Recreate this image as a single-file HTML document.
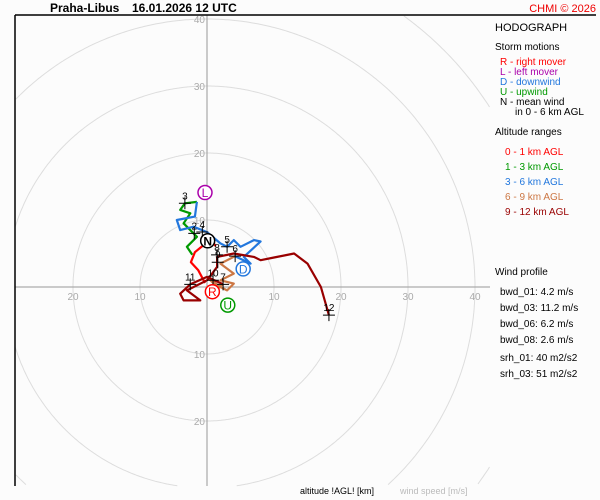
<!DOCTYPE html>
<html><head><meta charset="utf-8"><style>
html,body{margin:0;padding:0;width:600px;height:500px;overflow:hidden;background:#fcfcfc;}
svg{display:block;font-family:"Liberation Sans",sans-serif;}
</style></head><body>
<svg width="600" height="500" viewBox="0 0 600 500">
<rect x="0" y="0" width="600" height="500" fill="#fcfcfc"/>
<g id="grid"></g>
<g id="axes"></g>
<g id="series"></g>
<g id="marks"></g>
<line x1="15" y1="15" x2="596" y2="15" stroke="#000" stroke-width="1.5"/>
<line x1="15" y1="15" x2="15" y2="486" stroke="#000" stroke-width="1.5"/>
<text x="50" y="12" font-size="12" font-weight="bold">Praha-Libus</text>
<text x="132" y="12" font-size="12" font-weight="bold">16.01.2026 12 UTC</text>
<text x="596" y="12" font-size="11" fill="#e00" text-anchor="end">CHMI © 2026</text>
<text x="495" y="31" font-size="11">HODOGRAPH</text>
<text x="495" y="50" font-size="10">Storm motions</text>
<text x="500" y="65" font-size="10" fill="#f00">R - right mover</text>
<text x="500" y="75" font-size="10" fill="#a0a">L - left mover</text>
<text x="500" y="85" font-size="10" fill="#27d">D - downwind</text>
<text x="500" y="95" font-size="10" fill="#090">U - upwind</text>
<text x="500" y="105" font-size="10">N - mean wind</text>
<text x="515" y="115" font-size="10">in 0 - 6 km AGL</text>
<text x="495" y="135" font-size="10">Altitude ranges</text>
<text x="505" y="155" font-size="10" fill="#f00">0 - 1 km AGL</text>
<text x="505" y="170" font-size="10" fill="#090">1 - 3 km AGL</text>
<text x="505" y="185" font-size="10" fill="#27d">3 - 6 km AGL</text>
<text x="505" y="200" font-size="10" fill="#c74">6 - 9 km AGL</text>
<text x="505" y="215" font-size="10" fill="#900">9 - 12 km AGL</text>
<text x="495" y="275" font-size="10">Wind profile</text>
<text x="500" y="295" font-size="10">bwd_01: 4.2 m/s</text>
<text x="500" y="311" font-size="10">bwd_03: 11.2 m/s</text>
<text x="500" y="327" font-size="10">bwd_06: 6.2 m/s</text>
<text x="500" y="343" font-size="10">bwd_08: 2.6 m/s</text>
<text x="500" y="361" font-size="10">srh_01: 40 m2/s2</text>
<text x="500" y="377" font-size="10">srh_03: 51 m2/s2</text>
<text x="300" y="494" font-size="9">altitude !AGL! [km]</text>
<text x="400" y="494" font-size="9" fill="#bbb">wind speed [m/s]</text>
<script>
const ringValues=[10,20,30,40,50,60,70];
const tickLabelsPos=[10,20,30,40];
const tickLabelsNeg=[10,20];
const seg01U=[-0.3,-1.3,-2.4,-1.8,-0.7,0.7,1.3];
const seg01V=[0.6,2.5,3.7,5.2,6.1,6.9,6.1];
const seg13U=[-2.2,-3,-1.5,-3.5,-2.5,-4,-3.3,-1.5];
const seg13V=[4.8,6,7.5,9.5,11,11.5,12.5,12.7];
const seg36U=[-1.5,-1.8,-4.5,-4,-2,0,2,3,4,5,7,8,5.5,6.5,4.2];
const seg36V=[12.7,10.5,10,8.5,9,8.2,6.5,6,7,6,7,6.8,4.5,3.5,4.6];
const seg69U=[4.2,2,4,2,4,3,1,0,2,0,2.4];
const seg69V=[4.6,3.5,2,1,0.5,-0.5,0.5,1.5,0,-1,0.4];
const seg912U=[2.4,0,-2.5,-4,-3.5,-1,-3,0,1.5,1.5,4,7,8,10,13,15,17,18.2];
const seg912V=[0.4,1.5,0.4,-1,-2,-2,-0.5,1,3,4.5,5,4.5,4,4.4,5,3.5,0,-4.2];
const heightLabels=["2","3","4","5","6","8","9","10","11","7","12"];
const heightU=[-1.9,-3.3,-0.7,3,4.2,1.5,1.6,0.9,-2.5,2.4,18.2];
const heightV=[8,12.5,8.2,6,4.6,4.8,3.7,1,0.4,0.4,-4.2];
const motionLabels=["R","L","D","U","N"];
const motionU=[0.8,-0.3,5.4,3.1,0.1];
const motionV=[-0.7,14.1,2.7,-2.7,6.9];
const motionColors=["#f00","#a0a","#27d","#090","#000"];
const CX=207,CY=287,S=6.7;
const X0=15,X1=490,Y0=15,Y1=486;
function sx(u){return CX+u*S;}
function sy(v){return CY-v*S;}
const NS="http://www.w3.org/2000/svg";
function mk(tag,attrs,parent){const e=document.createElementNS(NS,tag);for(const k in attrs)e.setAttribute(k,attrs[k]);parent.appendChild(e);return e;}
const grid=document.getElementById('grid'),axes=document.getElementById('axes'),series=document.getElementById('series'),marks=document.getElementById('marks');
ringValues.forEach(r=>{
  let d='',inside=false;
  for(let k=0;k<=720;k++){const a=k/720*2*Math.PI;const x=CX+r*S*Math.cos(a),y=CY+r*S*Math.sin(a);
    const ok=x>=X0&&x<=X1&&y>=Y0&&y<=Y1;
    if(ok){d+=(inside?'L':'M')+x.toFixed(1)+','+y.toFixed(1);}
    inside=ok;}
  if(!d)return;
  const c=mk('path',{d:d,fill:'none',stroke:'#ddd','stroke-width':1},grid);
  
  });
let l=mk('line',{x1:X0,y1:CY,x2:X1,y2:CY,stroke:'#999'},axes);


l=mk('line',{x1:CX,y1:Y0,x2:CX,y2:Y1,stroke:'#999'},axes);


function lab(x,y,t,a){const e=mk('text',{x:x,y:y,'font-size':10,fill:'#aaa','text-anchor':a},axes);e.textContent=t;

}
tickLabelsPos.forEach(t=>{lab(sx(t),CY+13,t,'middle');lab(CX-2,sy(t)+4,t,'end');});
tickLabelsNeg.forEach(t=>{lab(sx(-t),CY+13,t,'middle');lab(CX-2,sy(-t)+4,t,'end');});
function path(U,V,col,name){let d=U.map((u,i)=>(i?'L':'M')+sx(u).toFixed(1)+','+sy(V[i]).toFixed(1)).join(' ');
const p=mk('path',{d:d,fill:'none',stroke:col,'stroke-width':2.2,'stroke-linejoin':'round'},series);

}
path(seg01U,seg01V,'#f00','series-0-1km');
path(seg13U,seg13V,'#090','series-1-3km');
path(seg36U,seg36V,'#27d','series-3-6km');
path(seg69U,seg69V,'#c74','series-6-9km');
path(seg912U,seg912V,'#900','series-9-12km');
heightLabels.forEach((t,i)=>{const x=sx(heightU[i]),y=sy(heightV[i]);
const g=mk('g',{},marks);


mk('path',{d:`M${x-6},${y}H${x+6}M${x},${y-6}V${y+6}`,stroke:'#000','stroke-width':1},g);
const e=mk('text',{x:x,y:y-4,'font-size':10,'text-anchor':'middle'},g);e.textContent=t;});
motionLabels.forEach((t,i)=>{const x=sx(motionU[i]),y=sy(motionV[i]);
const g=mk('g',{},marks);


mk('circle',{cx:x,cy:y,r:7,fill:'#fff',stroke:motionColors[i],'stroke-width':1.5},g);
const e=mk('text',{x:x,y:y+4.5,'font-size':12,'text-anchor':'middle',fill:motionColors[i],'font-weight':t==='N'?'bold':'normal'},g);e.textContent=t;});
</script>
</svg>
</body></html>
